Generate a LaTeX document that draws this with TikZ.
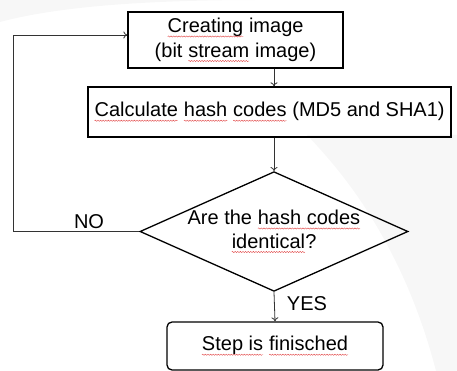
\documentclass[tikz,border=0pt]{standalone}
\usepackage{fontspec}
\setmainfont{Liberation Sans}
\usetikzlibrary{shapes.geometric,arrows.meta,decorations.pathmorphing}
\tikzset{sqline/.style={draw={rgb,255:red,225;green,70;blue,70},sharp corners,solid,line width=0.4pt,decorate,decoration={snake,amplitude=0.6pt,segment length=2.6pt}}}
\newcommand\sq[1]{\tikz[baseline=(w.base),x=1cm,y=1cm,sharp corners]{\node[inner sep=0pt,outer sep=0pt,draw=none,shape=rectangle,minimum width=0pt,minimum height=0pt,anchor=base] (w) at (0,0) {#1};\path[sqline] ([yshift=-3.8pt]w.base west) -- ([yshift=-3.8pt]w.base east);}}
\begin{document}
\begin{tikzpicture}[x=1pt,y=-1pt,
  box/.style={draw=black,line width=1.3pt,minimum width=#1,inner sep=0pt,font=\fontsize{20}{24.5}\selectfont,align=center},
  dec/.style={draw=black,line width=1.3pt,shape=diamond,aspect=2.24,minimum width=262pt,minimum height=117pt,inner sep=0pt,font=\fontsize{20}{23.5}\selectfont,align=center},
  conn/.style={draw=black!80,line width=0.8pt,-{To[length=4pt,width=7pt]}},
  lab/.style={font=\fontsize{20}{22}\selectfont}]
\useasboundingbox (0,0) rectangle (457,371);
% faint background swooshes
\fill[black!3] (307,135) .. controls (350,180) and (375,220) .. (395,260) .. controls (415,300) and (428,340) .. (436,371) -- (457,371) -- (457,135) -- cycle;
\fill[black!3] (0,22) .. controls (60,6) and (150,0) .. (260,0) -- (0,0) -- cycle;
\node[box=215pt,minimum height=56pt] (box1) at (235.5,40) {\sq{Creating} image\\(bit \sq{stream} image)};
\node[box=363pt,minimum height=50pt] (box2) at (269.5,112) {\sq{Calculate} \sq{hash} \sq{codes} (MD5 and SHA1)};
\node[dec] (dia) at (274,231.5) {Are the \sq{hash codes}\\\sq{identical}?};
\node[box=216pt,minimum height=48pt,rounded corners=5pt] (box3) at (275,346) {\sq{Step is} \sq{finisched}};
\draw[conn] (box1.south -| dia.north) -- (box2.north -| dia.north);
\draw[conn] (box2.south -| dia.north) -- (dia.north);
\draw[conn] (dia.south) -- (box3.north);
\coordinate (c1) at (13,231.5);
\coordinate (c2) at (13,35);
\draw[conn] (dia.west) -- (c1) -- (c2) -- (c2 -| box1.west);
\node[lab] (no) at (89,222) {NO};
\node[lab] (yes) at (307,304) {YES};
\end{tikzpicture}
\end{document}
